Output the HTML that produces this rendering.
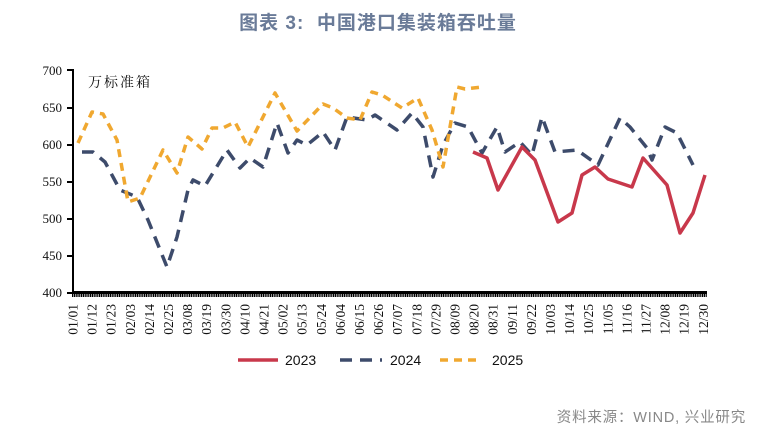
<!DOCTYPE html>
<html><head><meta charset="utf-8"><style>
body{margin:0;background:#fff;}
svg{display:block;}
</style></head><body>
<svg width="776" height="433" viewBox="0 0 776 433" xmlns="http://www.w3.org/2000/svg">
<text x="378" y="29" text-anchor="middle" font-family="'Liberation Sans','Noto Sans CJK SC',sans-serif" font-size="19" font-weight="bold" letter-spacing="1" fill="#6a7b98" xml:space="preserve">图表 3:  中国港口集装箱吞吐量</text>
<g font-family="'Liberation Serif',serif" font-size="13" fill="#111" text-anchor="end">
<text x="62" y="75">700</text><text x="62" y="112">650</text><text x="62" y="149">600</text><text x="62" y="186">550</text><text x="62" y="223">500</text><text x="62" y="260">450</text><text x="62" y="297">400</text>
</g>
<text x="88" y="87" font-family="'Noto Serif CJK SC','Noto Sans CJK SC',serif" font-size="14" letter-spacing="2" fill="#111">万标准箱</text>
<g stroke="#000" stroke-width="2">
<line x1="73" y1="69" x2="73" y2="294"/>
<line x1="67" y1="70" x2="73" y2="70"/><line x1="67" y1="108" x2="73" y2="108"/><line x1="67" y1="145" x2="73" y2="145"/><line x1="67" y1="182" x2="73" y2="182"/><line x1="67" y1="219" x2="73" y2="219"/><line x1="67" y1="256" x2="73" y2="256"/><line x1="67" y1="293" x2="73" y2="293"/>
</g>
<rect x="72" y="291" width="635" height="3" fill="#000"/>
<line x1="72" y1="295.5" x2="707" y2="295.5" stroke="#000" stroke-width="3" stroke-dasharray="1.2 0.6"/>
<g font-family="'Liberation Serif',serif" font-size="13.5" fill="#111" text-anchor="end">
<text transform="translate(77.5,304) rotate(-90)">01/01</text>
<text transform="translate(96.6,304) rotate(-90)">01/12</text>
<text transform="translate(115.7,304) rotate(-90)">01/23</text>
<text transform="translate(134.8,304) rotate(-90)">02/03</text>
<text transform="translate(153.9,304) rotate(-90)">02/14</text>
<text transform="translate(173,304) rotate(-90)">02/25</text>
<text transform="translate(192.1,304) rotate(-90)">03/08</text>
<text transform="translate(211.2,304) rotate(-90)">03/19</text>
<text transform="translate(230.3,304) rotate(-90)">03/30</text>
<text transform="translate(249.4,304) rotate(-90)">04/10</text>
<text transform="translate(268.5,304) rotate(-90)">04/21</text>
<text transform="translate(287.6,304) rotate(-90)">05/02</text>
<text transform="translate(306.7,304) rotate(-90)">05/13</text>
<text transform="translate(325.8,304) rotate(-90)">05/24</text>
<text transform="translate(344.9,304) rotate(-90)">06/04</text>
<text transform="translate(364,304) rotate(-90)">06/15</text>
<text transform="translate(383.1,304) rotate(-90)">06/26</text>
<text transform="translate(402.2,304) rotate(-90)">07/07</text>
<text transform="translate(421.3,304) rotate(-90)">07/18</text>
<text transform="translate(440.4,304) rotate(-90)">07/29</text>
<text transform="translate(459.5,304) rotate(-90)">08/09</text>
<text transform="translate(478.6,304) rotate(-90)">08/20</text>
<text transform="translate(497.7,304) rotate(-90)">08/31</text>
<text transform="translate(516.8,304) rotate(-90)">09/11</text>
<text transform="translate(535.9,304) rotate(-90)">09/22</text>
<text transform="translate(555,304) rotate(-90)">10/03</text>
<text transform="translate(574.1,304) rotate(-90)">10/14</text>
<text transform="translate(593.2,304) rotate(-90)">10/25</text>
<text transform="translate(612.3,304) rotate(-90)">11/05</text>
<text transform="translate(631.4,304) rotate(-90)">11/16</text>
<text transform="translate(650.5,304) rotate(-90)">11/27</text>
<text transform="translate(669.6,304) rotate(-90)">12/08</text>
<text transform="translate(688.7,304) rotate(-90)">12/19</text>
<text transform="translate(707.8,304) rotate(-90)">12/30</text>
</g>
<g fill="none" stroke-width="3.5" stroke-linejoin="round">
<polyline stroke="#3d4b6b" stroke-dasharray="12 8" points="82,152 93,152 105,162 120,190 137,197 148,220 167,267 177,237 188,190 193,180 205,186 227,150 240,168 250,158 263,167 277,123 288,153 297,140 307,145 323,132 335,150 347,117 367,120 375,115 397,130 412,113 423,127 433,177 443,145 455,123 468,127 482,153 497,127 505,152 520,142 532,155 542,117 555,152 577,150 598,165 620,118 630,127 647,148 652,160 665,127 677,133 693,165"/>
<polyline stroke="#f0a830" stroke-dasharray="8 6" points="78,143 92,112 103,114 117,140 128,202 140,198 163,150 177,173 188,137 202,149 212,128 223,128 235,122 248,147 275,93 297,131 323,104 333,108 347,118 360,120 372,92 382,95 402,108 418,98 432,130 443,167 457,87 465,89 482,87"/>
<polyline stroke="#c8384b" points="473,152 487,158 498,190 522,147 535,160 558,222 572,213 582,175 595,167 608,179 632,187 643,158 667,185 680,233 693,213 705,175"/>
</g>
<g font-family="'Liberation Sans',sans-serif" font-size="14" fill="#111">
<line x1="238" y1="360" x2="278" y2="360" stroke="#c8384b" stroke-width="3.5"/>
<text x="285" y="365">2023</text>
<line x1="340" y1="360" x2="382" y2="360" stroke="#3d4b6b" stroke-width="3.5" stroke-dasharray="12 8"/>
<text x="390" y="365">2024</text>
<line x1="440" y1="360" x2="482" y2="360" stroke="#f0a830" stroke-width="3.5" stroke-dasharray="8 6"/>
<text x="492" y="365">2025</text>
</g>
<text x="746" y="422" text-anchor="end" font-family="'Liberation Sans','Noto Sans CJK SC',sans-serif" font-size="14.5" letter-spacing="0.8" fill="#888">资料来源：WIND, 兴业研究</text>
</svg>
</body></html>
